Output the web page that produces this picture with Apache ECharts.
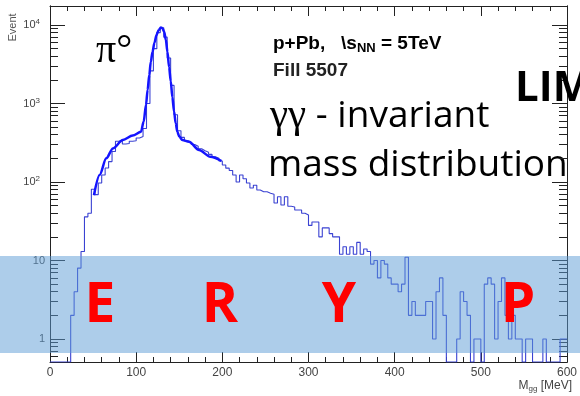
<!DOCTYPE html>
<html>
<head>
<meta charset="utf-8">
<script src="https://cdn.jsdelivr.net/npm/echarts@6/dist/echarts.min.js"></script>
<style>
  html, body { margin: 0; padding: 0; background: #fff; }
  #chart { width: 580px; height: 396px; }
</style>
</head>
<body>
<div id="chart"></div>
<script>
// γγ invariant mass histogram, 4 MeV bins from 0 to 600 MeV
const massLow = 0
const binWidth = 4
const counts = [
  0, 0, 0, 0, 0, 0, 2, 4, 8, 13,
  36, 40, 81, 69, 97, 123, 151, 182, 245, 330,
  340, 305, 310, 330, 335, 363, 380, 480, 1000, 2600,
  5000, 8000, 9200, 7000, 3800, 1700, 720, 450, 370, 335,
  320, 300, 285, 265, 250, 240, 225, 210, 200, 185,
  165, 150, 140, 123, 100, 123, 110, 97, 84, 91,
  79, 75, 75, 72, 70, 54, 65, 51, 65, 49,
  48, 44, 44, 40, 38, 28, 31, 31, 20, 26,
  26, 22, 20, 20, 12, 15, 12, 15, 12, 17,
  12, 14, 13, 9, 10, 6, 10, 9, 6, 5,
  5, 4, 5, 11, 2, 3, 2, 2, 2, 3,
  3, 1, 4, 6, 2, 0, 0, 0, 1, 4,
  3, 2, 0, 1, 1, 0, 5, 6, 5, 1,
  3, 6, 2, 1, 2, 1, 1, 0, 1, 1,
  0, 0, 0, 1, 0, 0, 0, 0, 1, 1
]

// fitted curve (gaussian + background)
const fitMass = [51, 57.6, 65.3, 73, 84.5, 96, 105.6, 108.7, 111.4, 113.3, 115.2, 117, 119, 121.3, 123.6, 126,
  128.7, 130.5, 132.5, 134.4, 136.3, 138.2, 140.2, 142, 144, 145.9, 147.8, 150, 153.6, 161.3, 173, 186, 199]
const fitValue = [68, 123, 200, 268, 343, 390, 436, 590, 955, 1500, 2300, 3400, 4570, 6000, 7440, 8600,
  9300, 9100, 8200, 6500, 4570, 2900, 1900, 1200, 790, 560, 436, 380, 343, 325, 256, 210, 185]

// y axis ticks (log scale)
const yMajorTicks = [1, 10, 100, 1000, 10000]
const yMinorSteps = [2, 3, 4, 5, 6, 7, 8, 9]
const bandLetters = ["E", "R", "Y", "P"]

const yMin = -0.293
const yMax = 4.242
const toLog = v => (v > 0 ? Math.log10(v) : yMin)

const histData = counts.map((c, i) => [massLow + i * binWidth, toLog(c)])
histData.push([massLow + counts.length * binWidth, toLog(counts[counts.length - 1])])
const fitData = fitMass.map((m, i) => [m, Math.log10(fitValue[i])])

const majorLogs = yMajorTicks.map(v => Math.log10(v))
const minorLogs = []
;[0.1, 1, 10, 100, 1000].forEach(dec => {
  yMinorSteps.forEach(k => {
    const l = Math.log10(k * dec)
    if (l > yMin && l < yMax) minorLogs.push(l)
  })
})

const axisColor = "#222"
const labelColor = "#444"

function yAxisDef(pos, ticks, len, withLabels) {
  return {
    type: "value",
    position: pos,
    min: yMin,
    max: yMax,
    axisLine: { show: true, onZero: false, lineStyle: { color: axisColor, width: 1 } },
    axisTick: { show: true, inside: true, length: len, customValues: ticks, lineStyle: { color: axisColor } },
    axisLabel: withLabels
      ? {
          show: true,
          customValues: ticks,
          margin: 5,
          color: labelColor,
          fontSize: 11,
          fontFamily: "Liberation Sans",
          formatter: function (value) {
            const n = Math.round(value)
            if (n === 0) return "1"
            if (n === 1) return "10"
            return "{b|10}{e|" + n + "}"
          },
          rich: {
            b: { fontSize: 11, color: labelColor, fontFamily: "Liberation Sans" },
            e: { fontSize: 8, color: labelColor, fontFamily: "Liberation Sans", verticalAlign: "top", padding: [0, 5, 6, 0] }
          }
        }
      : { show: false },
    splitLine: { show: false }
  }
}

function xAxisDef(pos, withLabels) {
  return {
    type: "value",
    position: pos,
    min: 0,
    max: 600,
    interval: 100,
    axisLine: { show: true, onZero: false, lineStyle: { color: axisColor, width: 1 } },
    axisTick: { show: true, inside: true, length: 10, lineStyle: { color: axisColor } },
    minorTick: { show: true, splitNumber: 5, length: 5, lineStyle: { color: axisColor } },
    axisLabel: withLabels
      ? { show: true, margin: 5, color: labelColor, fontSize: 12, fontFamily: "Liberation Sans" }
      : { show: false },
    splitLine: { show: false }
  }
}

const letterX = [100, 220, 339, 518]

const chart = echarts.init(document.getElementById("chart"))
const option = {
  animation: false,
  backgroundColor: "#fff",
  textStyle: { fontFamily: "Liberation Sans" },
  grid: { left: 50, right: 8, top: 6, bottom: 34, containLabel: false },
  xAxis: [xAxisDef("bottom", true), xAxisDef("top", false)],
  yAxis: [
    yAxisDef("left", majorLogs, 15, true),
    yAxisDef("left", minorLogs, 8, false),
    yAxisDef("right", majorLogs, 15, false),
    yAxisDef("right", minorLogs, 8, false)
  ],
  series: [
    {
      name: "data",
      type: "line",
      step: "end",
      data: histData,
      showSymbol: false,
      clip: true,
      lineStyle: { color: "#3a42d2", width: 1.1 },
      z: 2
    },
    {
      name: "fit",
      type: "line",
      smooth: 0.3,
      smoothMonotone: "x",
      data: fitData,
      showSymbol: false,
      lineStyle: { color: "#1414ff", width: 2.5 },
      z: 3
    }
  ],
  graphic: [
    {
      type: "text", x: 12.5, y: 27.5, rotation: Math.PI / 2,
      style: { text: "Event", fontSize: 11, fontFamily: "Liberation Sans", fill: "#555", align: "center", verticalAlign: "middle" }
    },
    {
      type: "text", x: 572, y: 386,
      style: {
        text: "{a|M}{s|gg}{a| [MeV]}", align: "right", verticalAlign: "middle",
        rich: {
          a: { fontSize: 12, fontFamily: "Liberation Sans", fill: labelColor, color: labelColor },
          s: { fontSize: 8, fontFamily: "Liberation Sans", fill: labelColor, color: labelColor, verticalAlign: "bottom", padding: [5, 0, 0, 0] }
        }
      }
    },
    {
      type: "text", x: 96, y: 51,
      style: { text: "π°", fontSize: 40, fontFamily: "Liberation Serif", fill: "#000", verticalAlign: "middle" }
    },
    {
      type: "text", x: 273, y: 44,
      style: {
        text: "{a|p+Pb,   \\s}{s|NN}{a| = 5TeV}", verticalAlign: "middle",
        rich: {
          a: { fontSize: 19, fontWeight: "bold", fontFamily: "Liberation Sans", color: "#222" },
          s: { fontSize: 13, fontWeight: "bold", fontFamily: "Liberation Sans", color: "#222", verticalAlign: "bottom", padding: [8, 0, 0, 0] }
        }
      }
    },
    {
      type: "text", x: 273, y: 71,
      style: { text: "Fill 5507", fontSize: 19, fontWeight: "bold", fontFamily: "Liberation Sans", fill: "#222", verticalAlign: "middle" }
    },
    {
      type: "text", x: 270, y: 116,
      style: {
        text: "{g|γγ}{t| - invariant}", verticalAlign: "middle",
        rich: {
          g: { fontSize: 41, fontFamily: "Liberation Serif", color: "#000" },
          t: { fontSize: 37, fontFamily: "Open Sans", color: "#000" }
        }
      }
    },
    {
      type: "text", x: 268, y: 165,
      style: { text: "mass distribution", fontSize: 37, fontFamily: "Open Sans", fill: "#000", verticalAlign: "middle" }
    },
    {
      type: "text", x: 515, y: 89,
      style: { text: "LIM", fontSize: 42, fontWeight: "bold", fontFamily: "Open Sans", fill: "#000", verticalAlign: "middle" },
      z: 50
    },
    {
      type: "rect", shape: { x: 0, y: 256, width: 580, height: 97 },
      style: { fill: "rgba(91,155,213,0.5)" }, z: 100
    }
  ].concat(bandLetters.map((t, i) => ({
    type: "text", x: letterX[i], y: 306, z: 101,
    style: { text: t, fontSize: 55, fontWeight: "bold", fontFamily: "Open Sans", fill: "#ff0000", align: "center", verticalAlign: "middle" }
  })))
}
chart.setOption(option)
</script>
</body>
</html>
